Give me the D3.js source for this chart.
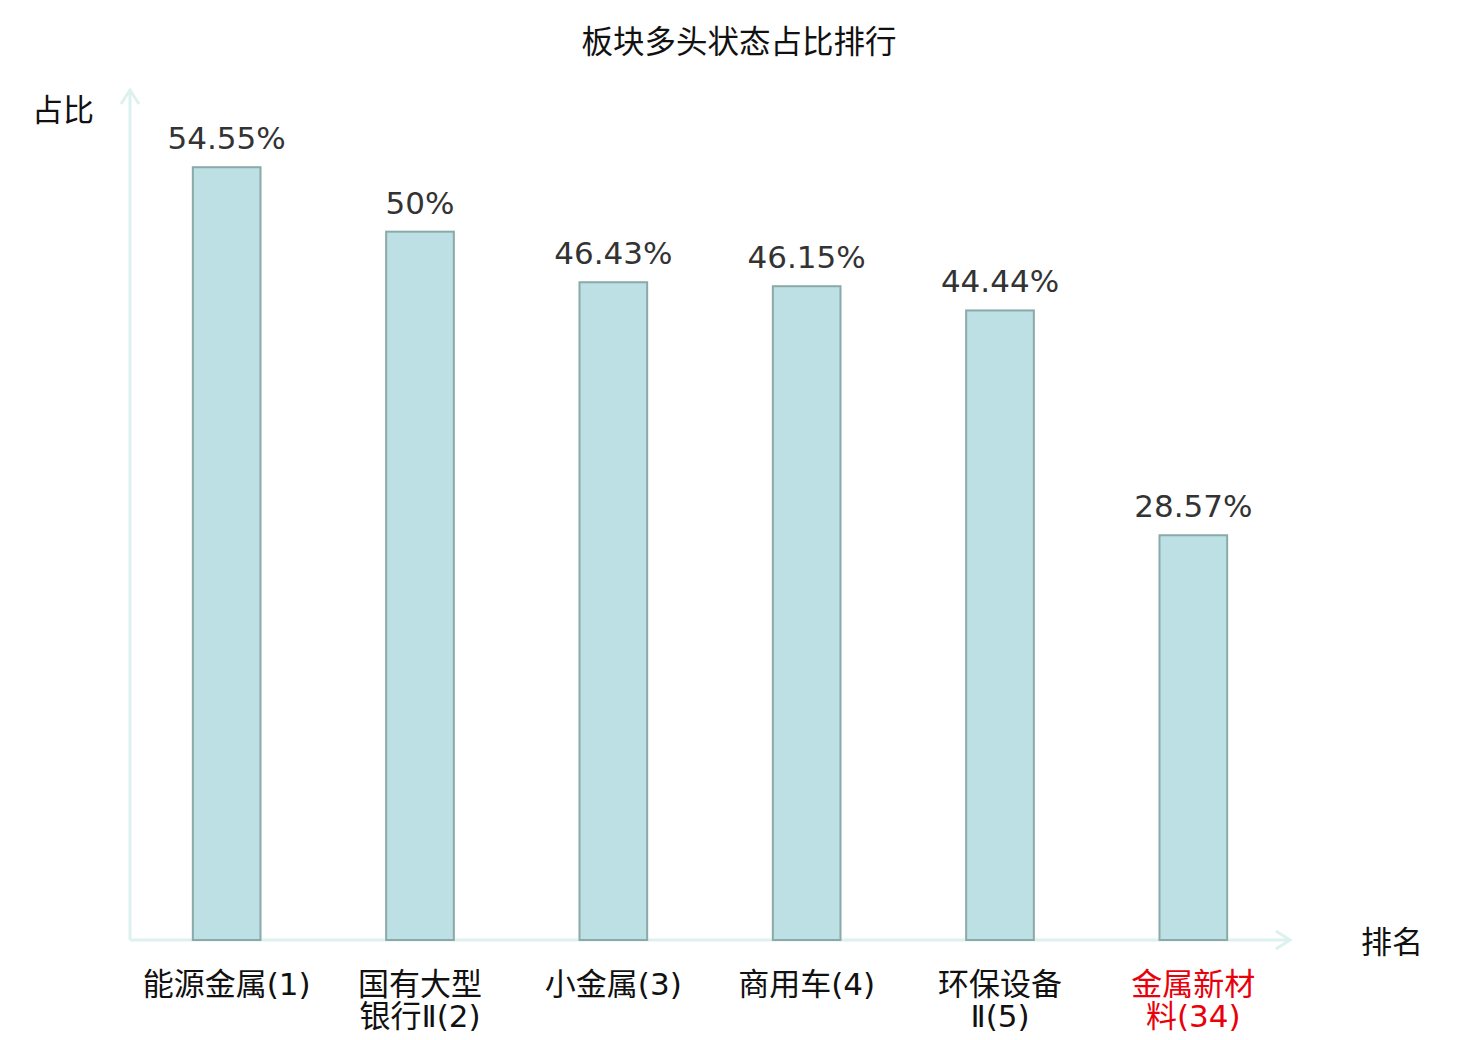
<!DOCTYPE html>
<html>
<head>
<meta charset="utf-8">
<script src="https://cdn.jsdelivr.net/npm/d3@7/dist/d3.min.js"></script>
<style>
  html, body { margin: 0; padding: 0; background: #fff; }
  svg { display: block; }
</style>
</head>
<body>
<div id="chart"></div>
<script>
// Sector bullish-state share ranking, bar chart with arrowed axes.
const W = 1480;
const H = 1040;
const FONT = '"DejaVu Sans", "Noto Sans CJK SC", sans-serif';
const CJK = '"Noto Sans CJK SC", "DejaVu Sans", sans-serif';
// thin latin glyphs (digits, parens, roman numeral) with CJK fallback
const LABEL = '"DejaVu Sans ExtraLight", "DejaVu Sans", "Noto Sans CJK SC", sans-serif';

const categories = ['能源金属(1)', '国有大型\n银行Ⅱ(2)', '小金属(3)', '商用车(4)', '环保设备\nⅡ(5)', '金属新材\n料(34)'];
const values = [54.55, 50, 46.43, 46.15, 44.44, 28.57];
const valueLabels = ['54.55%', '50%', '46.43%', '46.15%', '44.44%', '28.57%'];
const highlighted = ['金属新材\n料(34)'];

const AXIS = '#ddf1ef';
const x0 = 130, x1 = 1290, yBase = 940, yTop = 90;

const svg = d3.select('#chart').append('svg')
  .attr('width', W).attr('height', H)
  .attr('font-family', FONT);

const x = d3.scaleBand().domain(categories).range([x0, x1]).paddingInner(0.65).paddingOuter(0.325);
const y = d3.scaleLinear().domain([0, 60]).range([yBase, yTop]);

// title
svg.append('text')
  .attr('x', W / 2 - 1).attr('y', 53)
  .attr('text-anchor', 'middle')
  .attr('font-family', CJK)
  .attr('font-size', 31.5).attr('fill', '#111')
  .text('板块多头状态占比排行');

// axes with arrow heads
const ax = svg.append('g').attr('stroke', AXIS).attr('stroke-width', 3).attr('fill', 'none');
ax.append('path').attr('d', `M${x0},${yBase}V${yTop}`);
ax.append('path').attr('d', `M${x0 - 9},${yTop + 14}L${x0},${yTop}L${x0 + 9},${yTop + 14}`);
ax.append('path').attr('d', `M${x0},${yBase}H${x1}`);
ax.append('path').attr('d', `M${x1 - 14},${yBase - 9}L${x1},${yBase}L${x1 - 14},${yBase + 9}`);

// axis names
svg.append('text').attr('x', 63).attr('y', 121).attr('text-anchor', 'middle')
  .attr('font-family', CJK)
  .attr('font-size', 31).attr('fill', '#111').text('占比');
svg.append('text').attr('x', 1392).attr('y', 953).attr('text-anchor', 'middle')
  .attr('font-family', CJK)
  .attr('font-size', 31).attr('fill', '#111').text('排名');

// bars
svg.append('g').selectAll('rect')
  .data(values)
  .join('rect')
  .attr('x', (d, i) => x(categories[i]))
  .attr('y', d => y(d))
  .attr('width', x.bandwidth())
  .attr('height', d => yBase - y(d))
  .attr('fill', '#bce0e3')
  .attr('stroke', '#8aa9a9')
  .attr('stroke-width', 2);

// value labels
svg.append('g').selectAll('text')
  .data(values)
  .join('text')
  .attr('x', (d, i) => x(categories[i]) + x.bandwidth() / 2)
  .attr('y', d => y(d) - 18)
  .attr('text-anchor', 'middle')
  .attr('font-size', 31)
  .attr('fill', '#333')
  .text((d, i) => valueLabels[i]);

// category labels (multi-line)
const cat = svg.append('g').selectAll('text')
  .data(categories)
  .join('text')
  .attr('text-anchor', 'middle')
  .attr('font-family', LABEL)
  .attr('font-size', 31)
  .attr('fill', d => highlighted.includes(d) ? '#e8000b' : '#111');
cat.each(function (d) {
  const cx = x(d) + x.bandwidth() / 2;
  d.split('\n').forEach((line, i) => {
    d3.select(this).append('tspan')
      .attr('x', cx)
      .attr('y', 995 + i * 32)
      .text(line);
  });
});
</script>
</body>
</html>
